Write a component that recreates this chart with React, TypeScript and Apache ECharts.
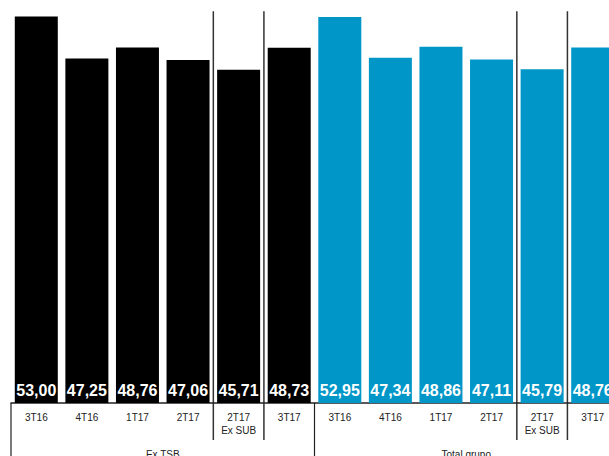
import React, { useEffect, useRef } from "react";
import * as echarts from "echarts";

const periods = ["3T16", "4T16", "1T17", "2T17", "2T17\nEx SUB", "3T17"];
const groups = ["Ex TSB", "Total grupo"];
const exTsbValues = [53.0, 47.25, 48.76, 47.06, 45.71, 48.73];
const totalGrupoValues = [52.95, 47.34, 48.86, 47.11, 45.79, 48.76];
const groupColors = ["#000000", "#0096c8"];

export default function App() {
  const ref = useRef<HTMLDivElement>(null);
  useEffect(() => {
    if (!ref.current) return;
    const chart = echarts.init(ref.current, undefined, { renderer: "svg" });
    const categories = [...periods, ...periods];
    const data = [
      ...exTsbValues.map((v) => ({ value: v, itemStyle: { color: groupColors[0] } })),
      ...totalGrupoValues.map((v) => ({ value: v, itemStyle: { color: groupColors[1] } })),
    ];
    const font = "'Liberation Sans', Arial, sans-serif";
    chart.setOption({
      animation: false,
      grid: { left: 11, width: 607, top: 2, height: 401, outerBoundsMode: "none", containLabel: false },
      xAxis: {
        type: "category",
        data: categories,
        axisLine: { show: true, lineStyle: { color: "#222", width: 1.5 } },
        axisTick: { show: false },
        axisLabel: {
          color: "#222",
          fontSize: 10,
          lineHeight: 13,
          margin: 8,
          fontFamily: font,
          interval: 0,
        },
      },
      yAxis: { type: "value", min: 0, max: 55, show: false },
      series: [
        {
          type: "bar",
          data,
          barWidth: 43,
          label: {
            show: true,
            position: "insideBottom",
            distance: 5,
            color: "#fff",
            fontWeight: "bold",
            fontSize: 16,
            fontFamily: font,
            formatter: (p: any) => p.value.toFixed(2).replace(".", ","),
          },
        },
      ],
    });

    const c0 = chart.convertToPixel({ xAxisIndex: 0 }, 0) as number;
    const c1 = chart.convertToPixel({ xAxisIndex: 0 }, 1) as number;
    const band = c1 - c0;
    const bx = (k: number) => c0 - band / 2 + k * band;
    const axisY = chart.convertToPixel({ yAxisIndex: 0 }, 0) as number;
    const topY = chart.convertToPixel({ yAxisIndex: 0 }, 54) as number;
    const n = periods.length;
    const graphic: any[] = [];
    const lineStyle = { stroke: "#333", lineWidth: 1.5 };
    [4, 5, n + 4, n + 5].forEach((k) => {
      graphic.push({
        type: "line",
        shape: { x1: bx(k), y1: topY + 2, x2: bx(k), y2: axisY + 37 },
        style: lineStyle,
      });
    });
    [0, n, 2 * n].forEach((k) => {
      graphic.push({
        type: "line",
        shape: { x1: bx(k), y1: axisY, x2: bx(k), y2: axisY + 60 },
        style: { stroke: "#222", lineWidth: 1.2 },
      });
    });
    groups.forEach((g, i) => {
      graphic.push({
        type: "text",
        x: (bx(i * n) + bx((i + 1) * n)) / 2,
        y: axisY + 46,
        style: {
          text: g,
          align: "center",
          verticalAlign: "top",
          fill: "#222",
          font: `10px ${font}`,
        },
      });
    });
    chart.setOption({ graphic });

    return () => chart.dispose();
  }, []);
  return (
    <div
      ref={ref}
      style={{ position: "absolute", left: 0, top: 0, width: 609, height: 456 }}
    />
  );
}
